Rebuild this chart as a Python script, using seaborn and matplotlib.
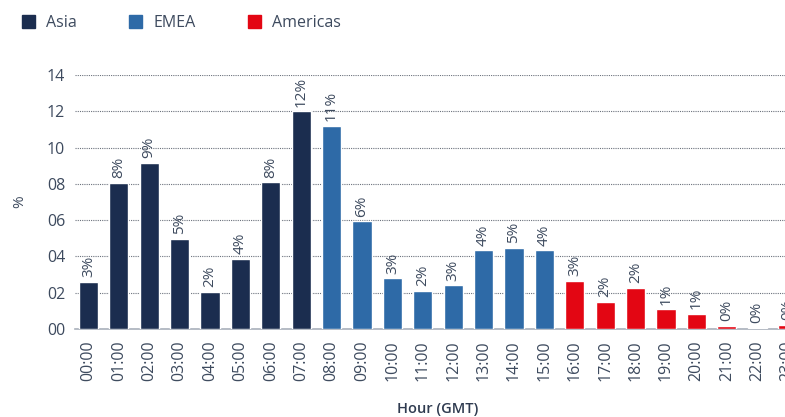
import matplotlib.pyplot as plt
import seaborn as sns
import pandas as pd

hours = [f"{h:02d}:00" for h in range(24)]
share = [2.6, 8.05, 9.15, 4.96, 2.04, 3.86, 8.1, 12.0, 11.2, 5.95, 2.8, 2.1,
         2.4, 4.35, 4.47, 4.35, 2.65, 1.5, 2.26, 1.1, 0.83, 0.17, 0.08, 0.22]
share_labels = ["3%", "8%", "9%", "5%", "2%", "4%", "8%", "12%", "11%", "6%", "3%", "2%",
                "3%", "4%", "5%", "4%", "3%", "2%", "2%", "1%", "1%", "0%", "0%", "0%"]
region = ["Asia"] * 8 + ["EMEA"] * 8 + ["Americas"] * 8

df = pd.DataFrame({"Hour": hours, "Share": share, "Region": region})

colors = {"Asia": "#1b2d4f", "EMEA": "#2e6aa7", "Americas": "#e30613"}
txt = "#3d4a5e"

sns.set_style("white")
plt.rcParams["font.family"] = ["Open Sans", "DejaVu Sans"]

fig = plt.figure(figsize=(7.85, 4.17), dpi=100)
ax = fig.add_axes([75 / 785, 88 / 417, 726 / 785, 254 / 417])

sns.barplot(data=df, x="Hour", y="Share", hue="Region", palette=colors,
            dodge=False, width=0.63, saturation=1, ax=ax, zorder=3)

# percentage labels above each bar
for i, (v, lab) in enumerate(zip(share, share_labels)):
    ax.text(i, v + 0.25, lab, rotation=90, ha="center", va="bottom",
            fontsize=11, color=txt)

ax.set_ylim(0, 14)
ax.set_xlim(-0.44, 23.44)
ax.set_yticks(range(0, 15, 2))
ax.set_yticklabels([f"{t:02d}" for t in range(0, 15, 2)])
ax.grid(axis="y", linestyle=(0, (1, 1)), color="#6b717c", linewidth=0.8, zorder=0)
ax.set_axisbelow(True)
for s in ["top", "right", "left"]:
    ax.spines[s].set_visible(False)
ax.spines["bottom"].set_color("#a9b0bb")
ax.spines["bottom"].set_linewidth(1.2)
ax.tick_params(axis="x", rotation=90, labelsize=11.5, labelcolor=txt, length=0, pad=8)
ax.tick_params(axis="y", labelsize=11.5, labelcolor=txt, length=0, pad=7)

ax.set_ylabel("%", fontsize=11, color=txt, labelpad=14)
ax.set_xlabel("Hour (GMT)", fontsize=10.5, color="#2f3b50", fontweight="semibold",
              labelpad=15)

ax.get_legend().remove()
handles = [plt.Rectangle((0, 0), 1, 1, color=colors[r]) for r in ["Asia", "EMEA", "Americas"]]
fig.legend(handles, ["Asia", "EMEA", "Americas"], loc="center left",
           bbox_to_anchor=(22 / 785, 1 - 23 / 417), ncol=3, frameon=False,
           fontsize=11.5, labelcolor=txt, handlelength=0.8, handleheight=0.8,
           handletextpad=0.7, columnspacing=3.3, borderpad=0, borderaxespad=0)

fig.savefig("out.png", dpi=100)
